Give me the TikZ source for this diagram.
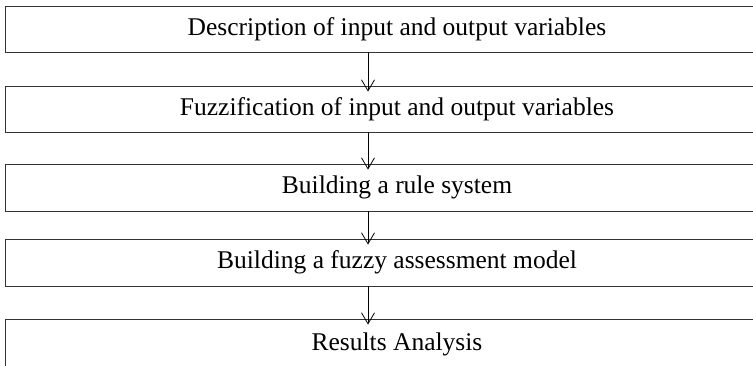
\documentclass[tikz,border=0pt]{standalone}
\usepackage{fontspec}
\setmainfont{Liberation Serif}
\usetikzlibrary{arrows.meta}
\begin{document}
\begin{tikzpicture}[x=1pt,y=-1pt,
  stepbox/.style={draw=black!80,line width=0.8pt,minimum width=784pt,inner sep=0pt,
    font=\fontsize{25.5}{30}\selectfont},
  arr/.style={draw=black,line width=0.8pt,-{Straight Barb[length=11pt,width=13pt,line width=0.8pt]}}]
\useasboundingbox (0,0) rectangle (753,366);
\clip (0,0) rectangle (753,366);
\node[stepbox,minimum height=46pt] (b1) at (397,29) {Description of input and output variables};
\node[stepbox,minimum height=46pt] (b2) at (397,109) {Fuzzification of input and output variables};
\node[stepbox,minimum height=47pt] (b3) at (397,187.5) {Building a rule system};
\node[stepbox,minimum height=47pt] (b4) at (397,262.5) {Building a fuzzy assessment model};
\node[stepbox,minimum height=50pt] (b5) at (397,344) {Results Analysis};
\draw[arr] ([xshift=-29pt]b1.south) -- ([xshift=-29pt,yshift=-6pt]b2.north);
\draw[arr] ([xshift=-29pt]b2.south) -- ([xshift=-29pt,yshift=-6pt]b3.north);
\draw[arr] ([xshift=-29pt]b3.south) -- ([xshift=-29pt,yshift=-6pt]b4.north);
\draw[arr] ([xshift=-29pt]b4.south) -- ([xshift=-29pt,yshift=-6pt]b5.north);
\end{tikzpicture}
\end{document}
